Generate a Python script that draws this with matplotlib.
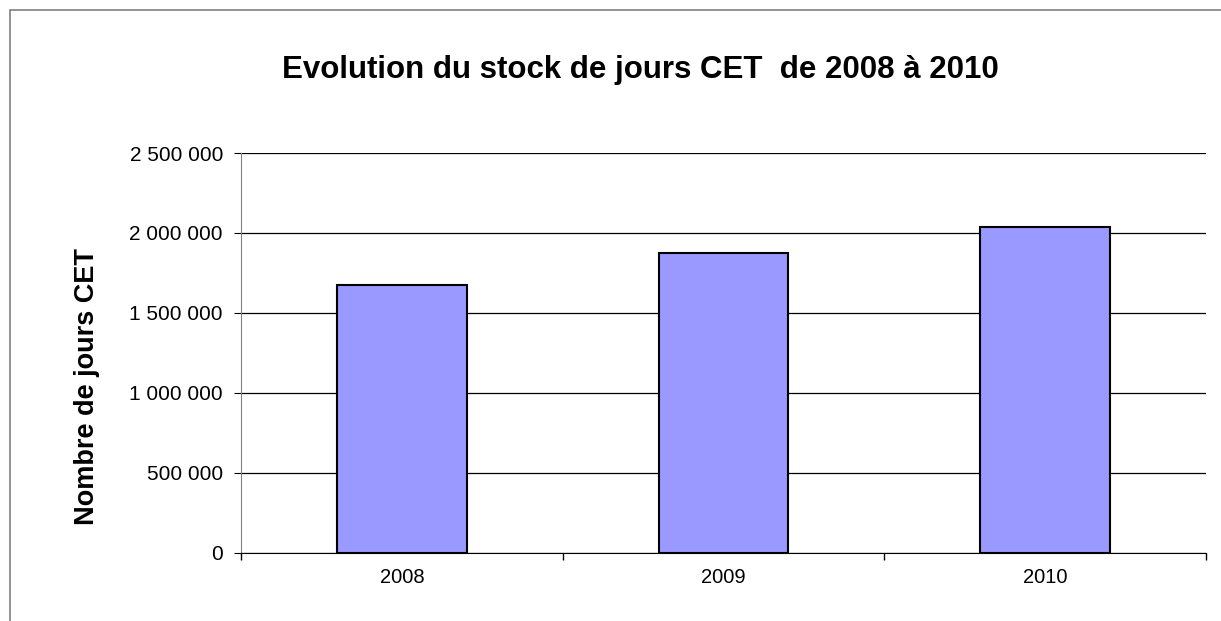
import matplotlib.pyplot as plt
from matplotlib.patches import Rectangle
from matplotlib.ticker import FuncFormatter

plt.rcParams['font.family'] = ['Liberation Sans', 'DejaVu Sans']

# Data
years = ['2008', '2009', '2010']
stock = [1675000, 1877000, 2039000]

fig = plt.figure(figsize=(12.21, 6.21), dpi=100)
ax = fig.add_axes([241 / 1221, 68 / 621, 965 / 1221, 400 / 621])

x = range(len(years))
ax.bar(x, stock, width=0.404, color='#9999FF', edgecolor='black', linewidth=1.5, zorder=3)

ax.set_xlim(-0.5, len(years) - 0.5)
ax.set_ylim(0, 2500000)
ax.set_yticks(range(0, 2500001, 500000))
ax.yaxis.set_major_formatter(FuncFormatter(lambda v, p: f'{int(v):,}'.replace(',', ' ')))
ax.yaxis.grid(True, color='black', linewidth=0.9, zorder=0)

# category ticks between the bars, labels centered
ax.set_xticks([i + 0.5 for i in range(-1, len(years))])
ax.set_xticklabels([])
ax.set_xticks(list(x), minor=True)
ax.set_xticklabels(years, minor=True)
ax.tick_params(axis='x', which='minor', length=0, pad=11, labelsize=14.5)
ax.tick_params(axis='x', which='major', length=5, direction='out', width=1)
ax.tick_params(axis='y', length=5, direction='out', labelsize=15, pad=8)

for s in ['top', 'right']:
    ax.spines[s].set_visible(False)
ax.spines['left'].set_color('gray')
ax.spines['bottom'].set_color('black')

ax.set_ylabel('Nombre de jours CET', fontsize=19.5, fontweight='bold', va='center')
ax.yaxis.set_label_coords(-0.16, 0.415)
fig.text(640 / 1221, 1 - 70 / 621, 'Evolution du stock de jours CET  de 2008 à 2010',
         ha='center', va='center', fontsize=22.5, fontweight='bold')

# outer chart frame
fig.patches.append(Rectangle((10 / 1221, -0.1), 2, 1 - 10 / 621 + 0.1, transform=fig.transFigure,
                             fill=False, edgecolor='gray', linewidth=1.2))

plt.savefig('out.png', dpi=100)
